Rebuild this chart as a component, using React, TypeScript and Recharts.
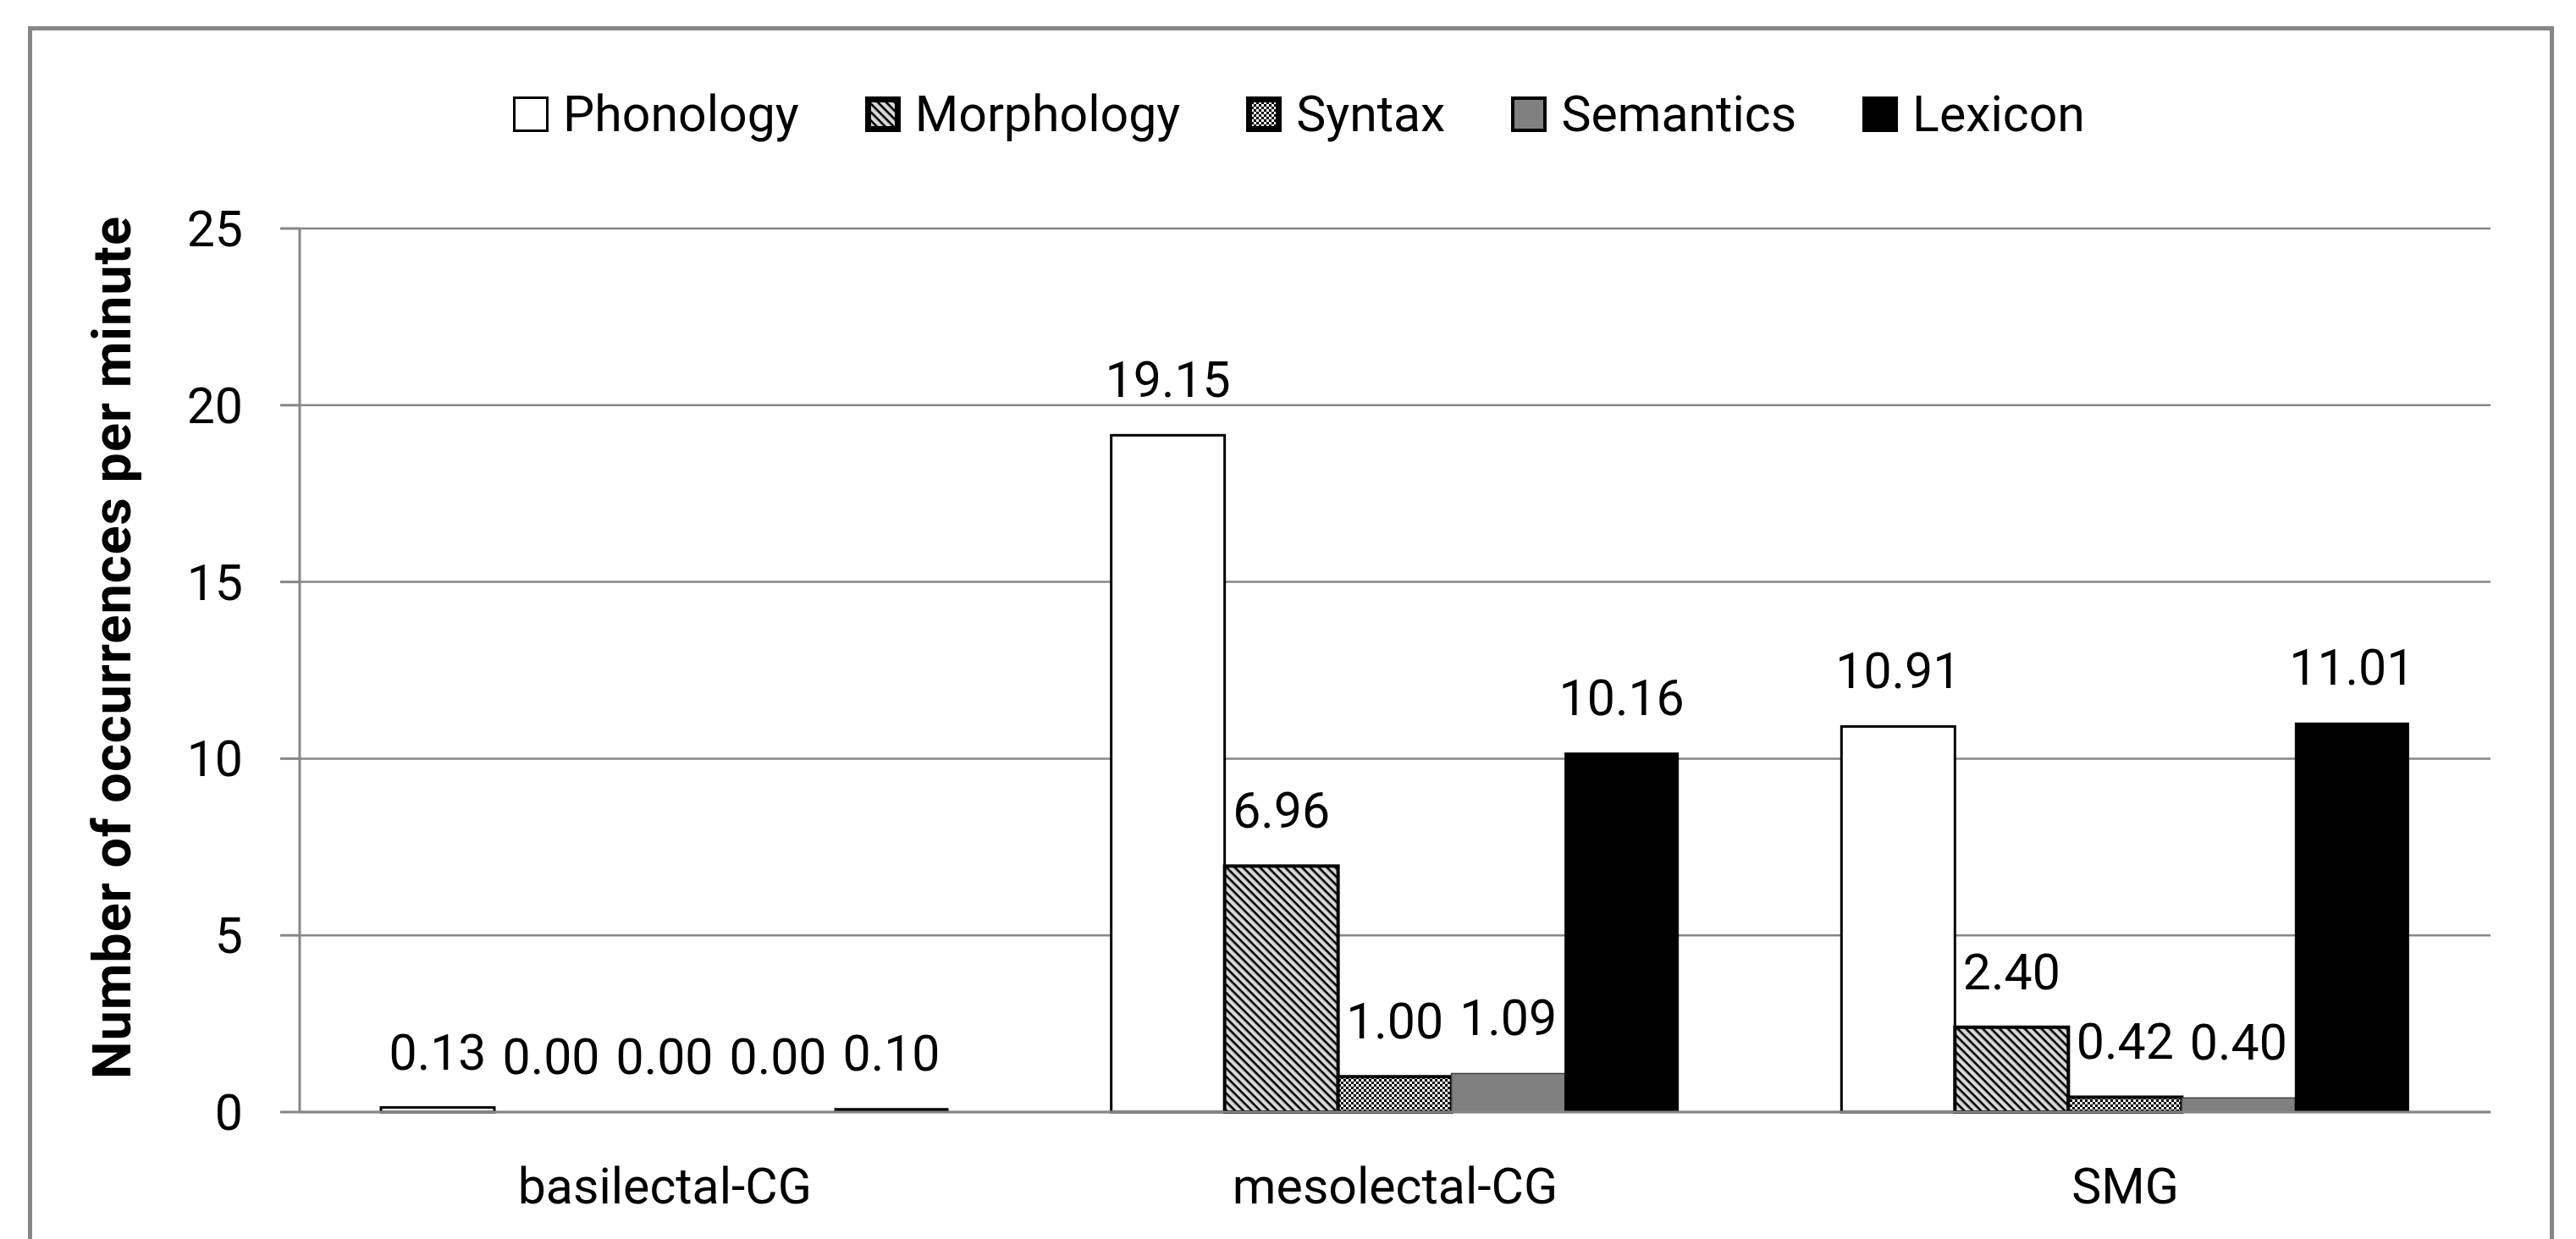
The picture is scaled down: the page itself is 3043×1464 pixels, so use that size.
import React from 'react';
import { BarChart, Bar, XAxis, YAxis, CartesianGrid, Legend } from 'recharts';

// Occurrences per minute by variety and linguistic level
const categories = ['basilectal-CG', 'mesolectal-CG', 'SMG'];
const phonology = [0.13, 19.15, 10.91];
const morphology = [0.0, 6.96, 2.4];
const syntax = [0.0, 1.0, 0.42];
const semantics = [0.0, 1.09, 0.4];
const lexicon = [0.1, 10.16, 11.01];
const yTicks = [0, 5, 10, 15, 20, 25];
// boundaries between the category bands, for the outward tick marks
const bandEdges = [0, 1, 2, 3];

const data = categories.map((name, i) => ({
  name,
  Phonology: phonology[i],
  Morphology: morphology[i],
  Syntax: syntax[i],
  Semantics: semantics[i],
  Lexicon: lexicon[i],
}));

const W = 3043;
const H = 1464;
const FONT = 'Roboto, sans-serif';
const FS = 59;
const GRAY = '#868686';
const LABEL_GAP = 45;

const series = [
  { key: 'Phonology', fill: '#ffffff', stroke: '#000000', strokeWidth: 3, boxStroke: 3 },
  { key: 'Morphology', fill: 'url(#hatch)', stroke: '#000000', strokeWidth: 4, boxStroke: 7 },
  { key: 'Syntax', fill: 'url(#checker)', stroke: '#000000', strokeWidth: 4, boxStroke: 7 },
  { key: 'Semantics', fill: '#808080', stroke: '#404040', strokeWidth: 1.5, boxStroke: 4 },
  { key: 'Lexicon', fill: '#000000', stroke: '#000000', strokeWidth: 1, boxStroke: 2 },
];

const fmt = (v: any) => Number(v).toFixed(2);

// Bar body plus its value label; zero-height bars still get their "0.00" label
const makeShape = (key: string) => (props: any) => {
  const { x, y, width, height, fill, stroke, strokeWidth, payload } = props;
  const v = payload && payload[key] !== undefined ? payload[key] : props.value;
  return (
    <g>
      {height > 0 && (
        <rect x={x} y={y} width={width} height={height} fill={fill} stroke={stroke} strokeWidth={strokeWidth} />
      )}
      <text
        x={x + width / 2}
        y={y - LABEL_GAP}
        textAnchor="middle"
        fontFamily={FONT}
        fontSize={FS}
        fill="#000"
      >
        {fmt(v)}
      </text>
    </g>
  );
};

function LegendRow() {
  return (
    <div
      style={{
        display: 'flex',
        justifyContent: 'center',
        alignItems: 'center',
        fontFamily: FONT,
        fontSize: FS,
        lineHeight: `${FS}px`,
        color: '#000',
      }}
    >
      {series.map((s, i) => (
        <div key={s.key} style={{ display: 'flex', alignItems: 'center', marginLeft: i ? 78 : 0 }}>
          <svg width={42} height={42} style={{ marginRight: 17, display: 'block' }}>
            <rect
              x={s.boxStroke / 2}
              y={s.boxStroke / 2}
              width={42 - s.boxStroke}
              height={42 - s.boxStroke}
              fill={s.fill}
              stroke="#000"
              strokeWidth={s.boxStroke}
            />
          </svg>
          <span>{s.key}</span>
        </div>
      ))}
    </div>
  );
}

function YTitle(props: any) {
  const vb = props.viewBox || { x: 0, y: 0, width: 0, height: 0 };
  const x = vb.x + 154;
  const y = vb.y + vb.height / 2 - 27;
  return (
    <text
      x={x}
      y={y}
      transform={`rotate(-90, ${x}, ${y})`}
      textAnchor="middle"
      fontFamily={FONT}
      fontSize={63}
      letterSpacing={1}
      fontWeight="bold"
      fill="#000"
    >
      Number of occurrences per minute
    </text>
  );
}

export default function App() {
  return (
    <div
      style={{
        position: 'absolute',
        left: 0,
        top: 0,
        width: W,
        height: H,
        overflow: 'hidden',
        background: '#ffffff',
      }}
    >
      <BarChart
        width={W}
        height={H}
        data={data}
        margin={{ top: 270, right: 101, bottom: 0, left: 0 }}
        barCategoryGap={96}
        barGap={0}
      >
        <defs>
          <pattern id="hatch" patternUnits="userSpaceOnUse" width={7} height={7} patternTransform="rotate(45)">
            <rect x={0} y={0} width={7} height={7} fill="#d9d9d9" />
            <rect x={0} y={0} width={7} height={2.6} fill="#000000" />
          </pattern>
          <pattern id="checker" patternUnits="userSpaceOnUse" width={6} height={6}>
            <rect x={0} y={0} width={6} height={6} fill="#ffffff" />
            <rect x={0} y={0} width={3} height={3} fill="#000000" />
            <rect x={3} y={3} width={3} height={3} fill="#000000" />
          </pattern>
        </defs>
        <CartesianGrid vertical={false} stroke={GRAY} strokeWidth={2.5} />
        <XAxis
          xAxisId="edges"
          type="number"
          domain={[0, 3]}
          ticks={bandEdges}
          allowDataOverflow
          height={0}
          axisLine={false}
          tick={false}
          tickSize={25}
          tickLine={{ stroke: GRAY, strokeWidth: 3 }}
        />
        <XAxis
          dataKey="name"
          height={150}
          axisLine={{ stroke: GRAY, strokeWidth: 3 }}
          tickLine={false}
          tickSize={0}
          tickMargin={66}
          tick={{ fill: '#000', fontSize: FS, fontFamily: FONT }}
        />
        <YAxis
          width={354}
          domain={[0, 25]}
          ticks={yTicks}
          interval={0}
          axisLine={{ stroke: GRAY, strokeWidth: 3 }}
          tickLine={{ stroke: GRAY, strokeWidth: 3 }}
          tickSize={23}
          tickMargin={44}
          tick={{ fill: '#000', fontSize: FS, fontFamily: FONT }}
          label={{ content: YTitle }}
        />
        <Legend
          verticalAlign="middle"
          align="center"
          layout="horizontal"
          content={() => <LegendRow />}
          wrapperStyle={{ top: 105, left: 13, width: W, height: FS }}
        />
        {series.map((s) => (
          <Bar
            key={s.key}
            dataKey={s.key}
            fill={s.fill}
            stroke={s.stroke}
            strokeWidth={s.strokeWidth}
            shape={makeShape(s.key)}
            isAnimationActive={false}
          />
        ))}
      </BarChart>
      <div
        style={{
          position: 'absolute',
          left: 33,
          top: 31,
          width: 2984,
          height: 1520,
          border: `5px solid ${GRAY}`,
          boxSizing: 'border-box',
          pointerEvents: 'none',
        }}
      />
    </div>
  );
}
